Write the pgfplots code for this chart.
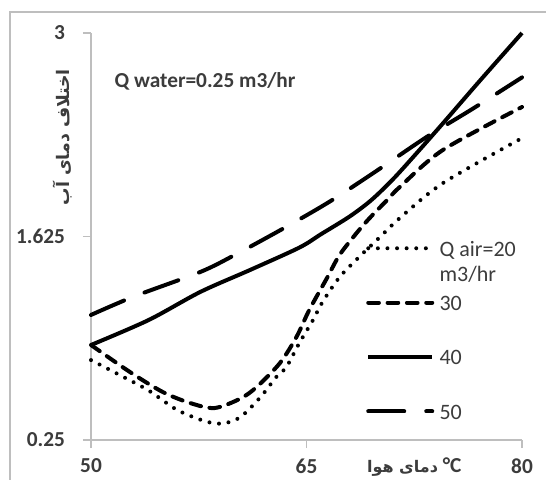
\documentclass[border=0pt]{standalone}
\usepackage{pgfplots}
\pgfplotsset{compat=1.18}
\usepackage{fontspec}
\setmainfont{Carlito}
\newfontfamily\arabicfont[Script=Arabic]{DejaVu Sans}
\TeXXeTstate=1
\definecolor{axgray}{RGB}{190,190,190}
\definecolor{txt}{RGB}{60,60,60}
\begin{document}
\begin{tikzpicture}
\useasboundingbox (0,0) rectangle (409.5pt,359.25pt);
\draw[axgray, line width=1.5pt] (7.5pt,-20pt) -- (7.5pt,350.25pt) -- (420pt,350.25pt);
\begin{axis}[
  at={(68.25pt,29.25pt)}, anchor=south west,
  scale only axis, width=323.25pt, height=305.25pt,
  xmin=50, xmax=80, ymin=0.25, ymax=3,
  axis lines=left, axis line style={-, axgray, line width=1.2pt},
  tick style={axgray, line width=1pt}, tick align=outside, major tick length=6pt,
  xtick={50,65,80}, xticklabels={50,65,80},
  ytick={0.25,1.625,3}, yticklabels={0.25,1.625,3},
  ticklabel style={font=\fontsize{16}{19}\selectfont\bfseries, text=txt},
  xticklabel style={yshift=-4.5pt},
  yticklabel style={xshift=-10pt},
  clip=false,
  legend style={at={(rel axis cs:0.638,0.496)}, anchor=north west, draw=none, fill=none,
    font=\fontsize{16.5}{19}\selectfont, text=txt, inner sep=0pt, row sep=26pt, column sep=4pt,
    nodes={inner sep=0pt}},
  legend cell align=left,
  legend image code/.code={\draw[#1] (0pt,0pt) -- (48pt,0pt);},
]
\addplot[black, line width=3pt, line cap=round, dash pattern=on 0pt off 7.2pt, smooth] coordinates {
(50,0.79) (52,0.689) (54,0.585) (56,0.453) (58,0.375) (59.2,0.362) (60.4,0.405) (61.8,0.54)
(62.9,0.676) (63.6,0.743) (64.5,0.905) (65.45,1.06) (66.1,1.18) (67.3,1.35) (68.7,1.49)
(70.1,1.62) (71.5,1.75) (74.5,1.986) (80,2.29)};
\addlegendentry{\strut\rlap{\raisebox{-19pt}[0pt][0pt]{m3/hr}}Q air=20}
\addplot[black, line width=3pt, line cap=round, dash pattern=on 8pt off 6.5pt, smooth] coordinates {
(50,0.892) (52.7,0.71) (55,0.574) (56.9,0.50) (58.6,0.466) (60.4,0.53) (61.55,0.61)
(63.15,0.77) (64.3,0.946) (65.2,1.13) (66.4,1.34) (67.3,1.50) (68.5,1.65) (69.4,1.75)
(70.6,1.87) (71.5,1.96) (74.5,2.21) (80,2.50)};
\addlegendentry{\strut 30}
\addplot[black, line width=3pt, smooth] coordinates {
(50,0.892) (54,1.06) (57.6,1.25) (61.1,1.40) (64.5,1.55) (66,1.64) (68,1.76) (69.5,1.87)
(71,2.01) (72.5,2.17) (74.5,2.39) (77,2.67) (80,3.0)};
\addlegendentry{\strut 40}
\addplot[black, line width=3pt, line cap=round, dash pattern=on 27pt off 16.5pt, smooth] coordinates {
(50,1.095) (53,1.22) (57.6,1.385) (60,1.50) (63.4,1.68) (66.6,1.86) (69.9,2.07)
(73.4,2.30) (76.6,2.49) (80,2.70)};
\addlegendentry{\strut 50}
\node[anchor=west, font=\fontsize{16}{19}\selectfont\bfseries, text=txt] at (rel axis cs:0.044,0.882) {Q water=0.25 m3/hr};
\node[rotate=90, font=\arabicfont\fontsize{13}{16}\selectfont\bfseries, text=txt] at (rel axis cs:-0.067,0.744) {\beginR اختلاف دمای آب\endR};
\node[font=\fontsize{16}{19}\selectfont, text=txt] at (rel axis cs:0.75,-0.066) {{\arabicfont\bfseries\fontsize{12}{15}\selectfont\beginR دمای هوا\endR}\ \textbf{°C}};
\end{axis}
\end{tikzpicture}
\end{document}
